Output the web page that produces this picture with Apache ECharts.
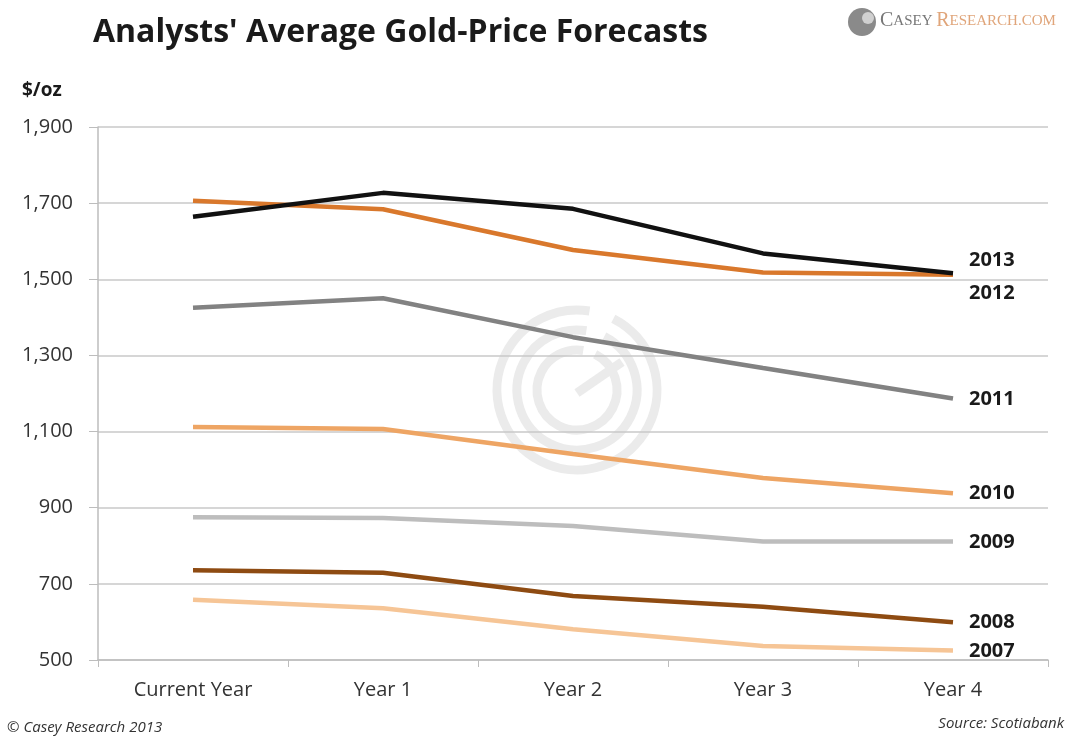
<!DOCTYPE html>
<html><head><meta charset="utf-8">
<script src="https://cdn.jsdelivr.net/npm/echarts@6/dist/echarts.min.js"></script>
<style>html,body{margin:0;padding:0;background:#fff}#c{width:1085px;height:740px}</style>
</head><body><div id="c"></div>
<script>
const categories = ['Current Year','Year 1','Year 2','Year 3','Year 4'];
const yTicks = [500,700,900,1100,1300,1500,1700,1900];
const s2013 = [1664,1727,1685,1568,1516];
const s2012 = [1706,1684,1577,1518,1512];
const s2011 = [1425,1450,1348,1267,1187];
const s2010 = [1112,1107,1041,978,938];
const s2009 = [875,873,852,811,811];
const s2008 = [736,729,668,640,599];
const s2007 = [658,636,581,537,525];

const seriesDefs = [
  {name:'2007', data:s2007, color:'#f6c596', dy:1},
  {name:'2008', data:s2008, color:'#8e4b12', dy:0},
  {name:'2009', data:s2009, color:'#bdbdbd', dy:1},
  {name:'2010', data:s2010, color:'#eea564', dy:0},
  {name:'2011', data:s2011, color:'#828282', dy:1},
  {name:'2012', data:s2012, color:'#d9782c', dy:19},
  {name:'2013', data:s2013, color:'#111111', dy:-13}
];

const chart = echarts.init(document.getElementById('c'));
const FONT = '"Open Sans", "Noto Sans", sans-serif';
const SERIF = '"Liberation Serif", "DejaVu Serif", serif';

const watermark = [];
[80,60,40].forEach((r,i)=>{
  watermark.push({type:'arc', shape:{cx:577, cy:390, r:r, startAngle:-Math.PI*0.35, endAngle:Math.PI*1.55}, style:{fill:'none', stroke:'#ebebeb', lineWidth:9}, z:-1, silent:true});
});
watermark.push({type:'line', shape:{x1:577, y1:393, x2:622, y2:362}, style:{stroke:'#ebebeb', lineWidth:9}, z:-1, silent:true});

chart.setOption({
  animation:false,
  backgroundColor:'#fff',
  grid:{left:98, right:37, top:127, bottom:80},
  title:{text:"Analysts' Average Gold-Price Forecasts", left:88, top:12,
    textStyle:{fontFamily:FONT, fontWeight:'bold', fontSize:32, color:'#1a1a1a'}},
  graphic:[
    ...watermark,
    {type:'text', left:22, top:81, style:{text:'$/oz', font:'bold 19px '+FONT, fill:'#1a1a1a'}},
    {type:'circle', shape:{cx:862, cy:22, r:14}, style:{fill:'#8a8a8a'}},
    {type:'circle', shape:{cx:868, cy:18, r:6}, style:{fill:'#d0d0d0'}},
    {type:'text', left:880, top:11, style:{rich:{a:{fontFamily:SERIF, fontSize:20, fill:'#777'}, b:{fontFamily:SERIF, fontSize:15, fill:'#777'}, c:{fontFamily:SERIF, fontSize:20, fill:'#e0a57a'}, d:{fontFamily:SERIF, fontSize:15, fill:'#e0a57a'}}, text:'{a|C}{b|ASEY }{c|R}{d|ESEARCH.COM}'}},
    {type:'text', left:7, top:720, style:{text:'© Casey Research 2013', font:'italic 15px '+FONT, fill:'#333'}},
    {type:'text', right:21, top:716, style:{text:'Source: Scotiabank', font:'italic 15px '+FONT, fill:'#333'}}
  ],
  xAxis:{type:'category', data:categories, boundaryGap:true,
    axisLine:{show:true, lineStyle:{color:'#bdbdbd', width:1.5}},
    axisTick:{show:true, length:7, lineStyle:{color:'#bdbdbd'}},
    axisLabel:{fontFamily:FONT, fontSize:20, color:'#333', margin:20}},
  yAxis:{type:'value', min:500, max:1900, interval:200,
    axisLine:{show:true, lineStyle:{color:'#bdbdbd', width:1.5}},
    axisTick:{show:true, length:9, lineStyle:{color:'#bdbdbd'}},
    splitLine:{lineStyle:{color:'#c8c8c8', width:1.5}},
    axisLabel:{fontFamily:FONT, fontSize:20, color:'#333', margin:25,
      formatter:v=>yTicks.includes(v)?v.toLocaleString('en-US'):''}},
  series: seriesDefs.map(d=>({
    name:d.name, type:'line', data:d.data, symbol:'none',
    lineStyle:{color:d.color, width:4.5}, itemStyle:{color:d.color},
    endLabel:{show:true, formatter:d.name, offset:[8,d.dy], fontFamily:FONT, fontWeight:'bold', fontSize:20, color:'#1a1a1a'}
  }))
});
</script></body></html>
